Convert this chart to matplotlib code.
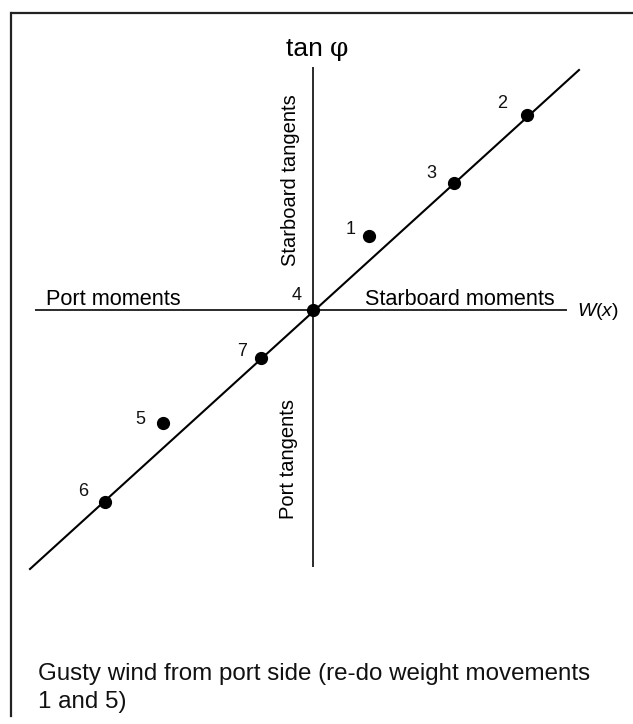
import matplotlib
matplotlib.use("Agg")
import matplotlib.pyplot as plt
from matplotlib.lines import Line2D

plt.rcParams['font.family'] = ['Liberation Sans', 'DejaVu Sans']
plt.rcParams['mathtext.fontset'] = 'custom'
plt.rcParams['mathtext.rm'] = 'Liberation Sans'
plt.rcParams['mathtext.it'] = 'Liberation Sans:italic'

# ---- data (W(x) in arbitrary units, tan phi in arbitrary units) ----
point_labels = ['1', '2', '3', '4', '5', '6', '7']
w_values = [1.12, 4.28, 2.82, 0.0, -3.00, -4.16, -1.04]
tan_values = [1.48, 3.90, 2.54, 0.0, -2.26, -3.84, -0.96]

fit_w = [-5.66, 5.32]
fit_tan = [-5.18, 4.80]

# label offsets (pixels) relative to each point
label_dx = [-18, -25, -23, -16, -23, -22, -19]
label_dy = [6, 11, 10, 15, 3, 10, 7]

x_axis_span = [-5.56, 5.08]
y_axis_span = [-5.14, 4.86]

fig = plt.figure(figsize=(6.33, 7.24), dpi=100)
ax = fig.add_axes([0, 0, 1, 1])
ax.set_xlim(-6.26, 6.40)
ax.set_ylim(-8.28, 6.20)
ax.axis('off')

# coordinate axes
ax.plot(x_axis_span, [0, 0], color='#1a1a1a', lw=1.3, solid_capstyle='butt')
ax.plot([0, 0], y_axis_span, color='#1a1a1a', lw=1.3, solid_capstyle='butt')

# fitted line
ax.plot(fit_w, fit_tan, color='black', lw=1.5)

# points
ax.plot(w_values, tan_values, 'o', color='black', markersize=8.5, linestyle='none')
for lab, x, y, dx, dy in zip(point_labels, w_values, tan_values, label_dx, label_dy):
    ax.annotate(lab, (x, y), xytext=(dx, dy), textcoords='offset pixels',
                ha='center', va='center', fontsize=13, color='#111111')

# axis annotations
ax.text(0.34, 5.08, 'tan ', ha='right', va='baseline', fontsize=19)
ax.text(0.34, 5.08, '\u03c6', ha='left', va='baseline', fontsize=19,
        family=['DejaVu Serif'])
ax.text(-0.44, 2.6, 'Starboard tangents', rotation=90, ha='center', va='center', fontsize=14.5)
ax.text(-0.48, -2.98, 'Port tangents', rotation=90, ha='center', va='center', fontsize=14.5)
ax.text(-5.34, 0.1, 'Port moments', ha='left', va='baseline', fontsize=15.7)
ax.text(1.04, 0.1, 'Starboard moments', ha='left', va='baseline', fontsize=15.6)
ax.text(5.28, -0.04, r'$W(x)$', ha='left', va='center', fontsize=14)

# caption
fig.text(38 / 633, 1 - 663 / 724,
         'Gusty wind from port side (re-do weight movements\n1 and 5)',
         ha='left', va='top', fontsize=17.4, linespacing=1.33, color='#111111')

# frame (top and left edges)
fig.add_artist(Line2D([12 / 633, 1.0], [1 - 13 / 724, 1 - 13 / 724],
                      transform=fig.transFigure, color='#222222', lw=1.6))
fig.add_artist(Line2D([11 / 633, 11 / 633], [1 - 13 / 724, 1 - 716 / 724],
                      transform=fig.transFigure, color='#222222', lw=1.6))

fig.savefig('out.png', dpi=100, facecolor='white')
